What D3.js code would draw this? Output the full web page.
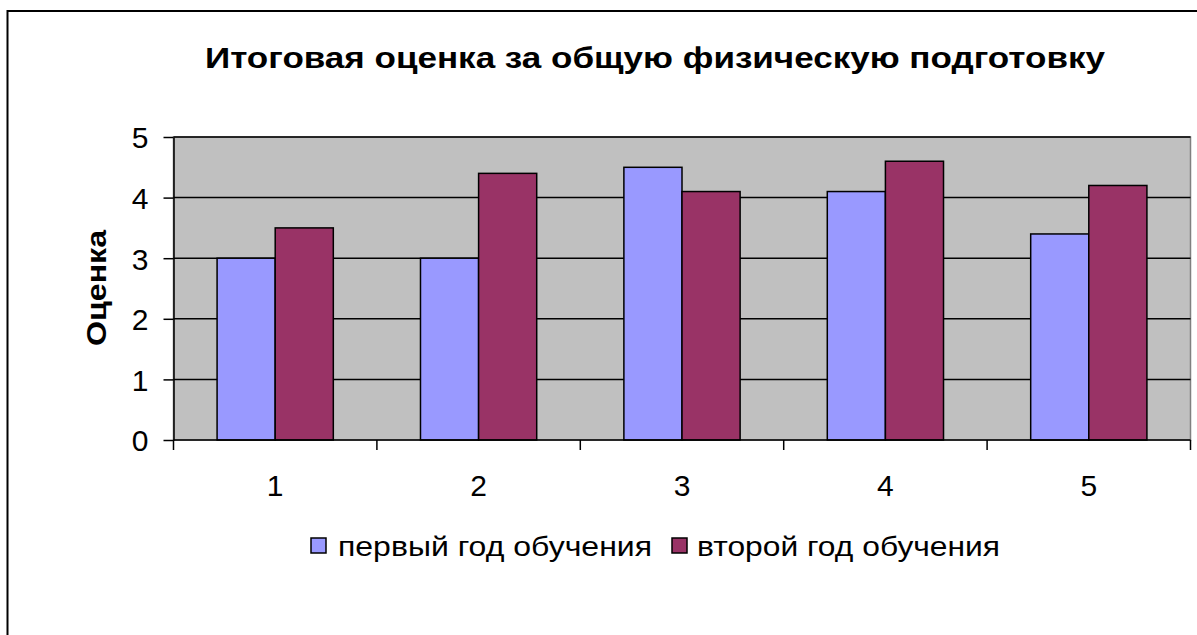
<!DOCTYPE html>
<html><head><meta charset="utf-8">
<script src="https://cdn.jsdelivr.net/npm/d3@7"></script>
<style>body{margin:0;background:#fff;} svg{display:block;font-family:"Liberation Sans",Arial,sans-serif;}</style>
</head><body>
<script>
const categories = ["1","2","3","4","5"];
const seriesNames = ["первый год обучения","второй год обучения"];
const firstYear = [3, 3, 4.5, 4.1, 3.4];
const secondYear = [3.5, 4.4, 4.1, 4.6, 4.2];
const yTicks = [0,1,2,3,4,5];
const colors = ["#9999FF","#993366"];
const titleText = "Итоговая оценка за общую физическую подготовку";
const yTitle = "Оценка";

const W = 1197, H = 635;
const svg = d3.select("body").append("svg").attr("width", W).attr("height", H);
svg.append("rect").attr("x",7.5).attr("y",11).attr("width",1300).attr("height",800)
  .attr("fill","#fff").attr("stroke","#000").attr("stroke-width",2);

const L = 173.5, R = 1190.5, T = 137, B = 440;
const x0 = d3.scaleBand().domain(categories).range([L,R]).paddingInner(0).paddingOuter(0);
const y = d3.scaleLinear().domain([0,5]).range([B,T]);

svg.append("rect").attr("x",L).attr("y",T).attr("width",R-L).attr("height",B-T)
  .attr("fill","#C0C0C0").attr("stroke","#808080").attr("stroke-width",1.5);

// gridlines
svg.append("g").selectAll("line").data(yTicks.filter(d=>d>0)).join("line")
  .attr("x1",L).attr("x2",R).attr("y1",d=>y(d)).attr("y2",d=>y(d))
  .attr("stroke","#000").attr("stroke-width",1.5);

const data = categories.map((c,i)=>({c, vals:[firstYear[i], secondYear[i]]}));
const bw = x0.bandwidth()/3.5;
const x1 = d3.scaleBand().domain([0,1]).range([0, 2*bw]);
svg.append("g").selectAll("g").data(data).join("g")
  .attr("transform", d=>`translate(${x0(d.c)+ bw*0.75},0)`)
  .selectAll("rect").data(d=>d.vals.map((v,k)=>({v,k}))).join("rect")
  .attr("x", d=>x1(d.k)).attr("width", x1.bandwidth())
  .attr("y", d=>y(d.v)).attr("height", d=>B-y(d.v))
  .attr("fill", d=>colors[d.k]).attr("stroke","#000").attr("stroke-width",1.5);

// axes
const yAxis = d3.axisLeft(y).tickValues(yTicks).tickFormat(d3.format("d")).tickSize(10).tickPadding(15).tickSizeOuter(0);
const gy = svg.append("g").attr("transform",`translate(${L},0)`).call(yAxis);
gy.attr("font-size",30).attr("font-family",null);
gy.select(".domain").attr("stroke","#000").attr("stroke-width",1.5);
gy.selectAll(".tick line").attr("stroke","#000").attr("stroke-width",1.5);
gy.selectAll("text").attr("fill","#000").attr("dy","0.36em");

const xb = d3.scaleLinear().domain([0,5]).range([L,R]);
const gx = svg.append("g").attr("transform",`translate(0,${B})`);
gx.append("line").attr("x1",L).attr("x2",R).attr("stroke","#000").attr("stroke-width",1.5);
gx.selectAll(".tk").data(d3.range(6)).join("line").attr("class","tk")
  .attr("x1",d=>xb(d)).attr("x2",d=>xb(d)).attr("y1",0).attr("y2",10)
  .attr("stroke","#000").attr("stroke-width",1.5);
gx.selectAll("text").data(categories).join("text")
  .attr("x",d=>x0(d)+x0.bandwidth()/2).attr("y",56).attr("text-anchor","middle")
  .attr("font-size",30).text(d=>d);

// title
svg.append("text").attr("x",205).attr("y",68)
  .attr("font-size",29).attr("font-weight","bold")
  .attr("textLength",900).attr("lengthAdjust","spacingAndGlyphs").text(titleText);
svg.append("text").attr("transform","translate(106,346) rotate(-90)")
  .attr("font-size",28).attr("font-weight","bold")
  .attr("textLength",116).attr("lengthAdjust","spacingAndGlyphs").text(yTitle);

// legend
const lg = svg.append("g");
const items = [{x:311, tx:338, len:314, name:seriesNames[0], c:colors[0]},{x:672, tx:697, len:303, name:seriesNames[1], c:colors[1]}];
items.forEach(it=>{
  lg.append("rect").attr("x",it.x).attr("y",538).attr("width",15).attr("height",15)
    .attr("fill",it.c).attr("stroke","#000").attr("stroke-width",1.5);
  lg.append("text").attr("x",it.tx).attr("y",556).attr("font-size",28)
    .attr("textLength",it.len).attr("lengthAdjust","spacingAndGlyphs").text(it.name);
});
</script>
</body></html>
